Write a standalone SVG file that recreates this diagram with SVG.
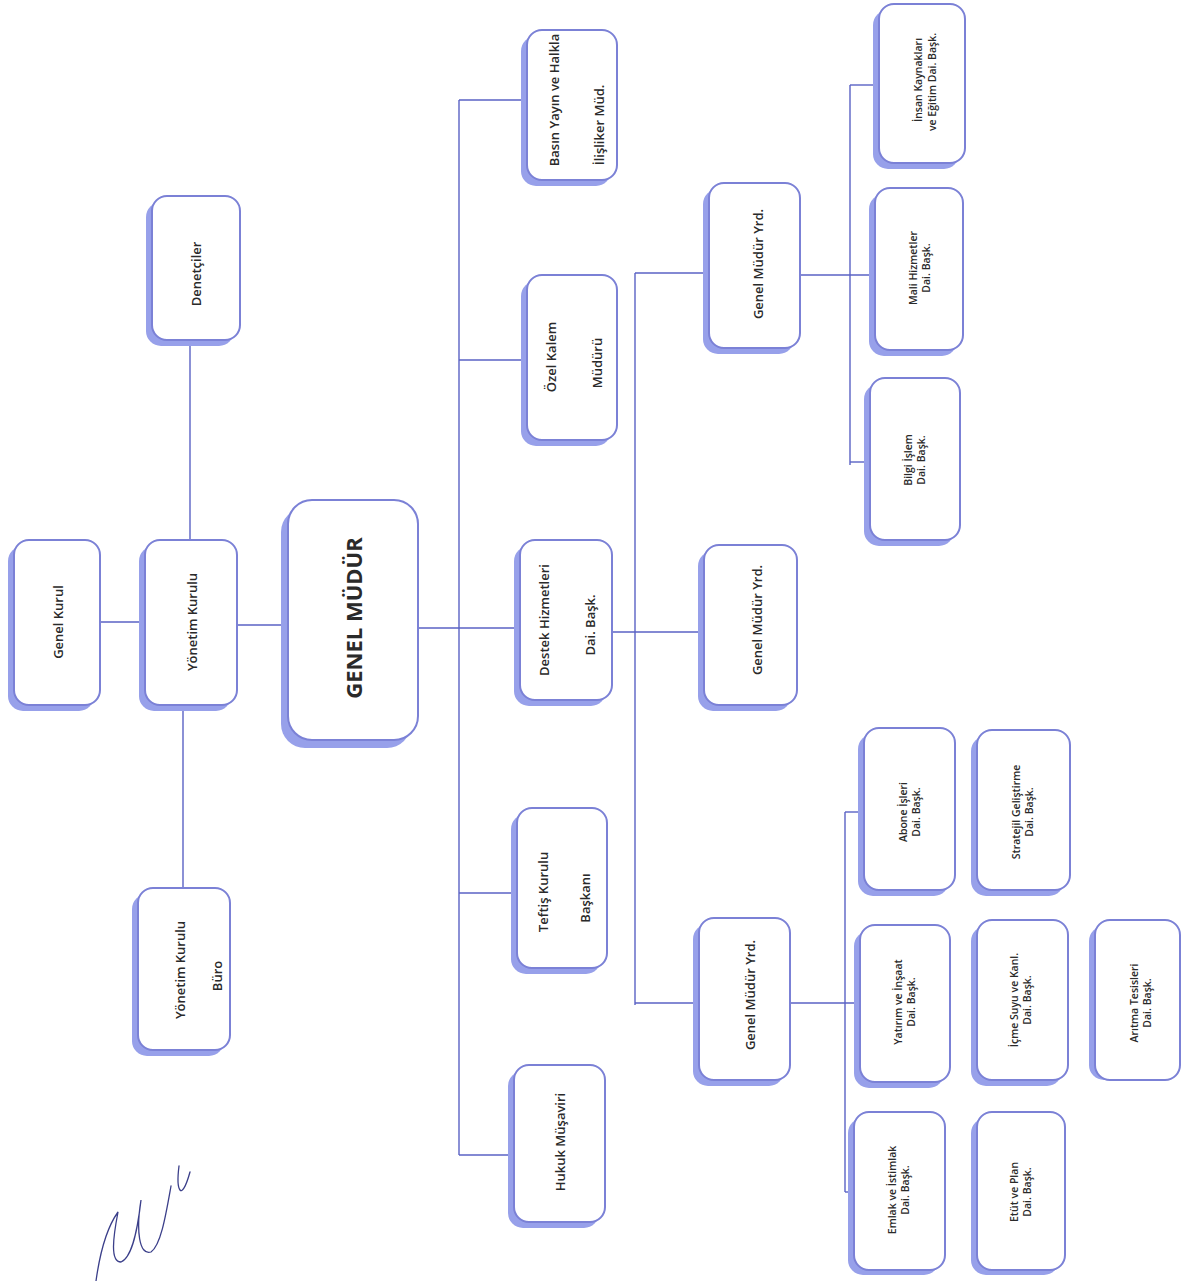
<svg xmlns="http://www.w3.org/2000/svg" width="1184" height="1281" viewBox="0 0 1184 1281">
<defs>
<style>
.sh{fill:#97a0ea;}
.bx{fill:#ffffff;stroke:#7b81d6;stroke-width:2;}
.t{font-family:"Open Sans","Liberation Sans",sans-serif;font-size:13px;font-weight:600;fill:#2a2a2a;text-anchor:middle;dominant-baseline:central;}
.s{font-size:10.5px;}
.big{font-size:22px;font-weight:700;}
.ln{stroke:#5a62c4;stroke-width:1.4;fill:none;}
.sig{stroke:#3b3f8a;stroke-width:1.3;fill:none;stroke-linecap:round;}
</style>
</defs>
<rect width="1184" height="1281" fill="#ffffff"/>
<g id="connectors">
<path class="ln" d="M100,622 H145"/>
<path class="ln" d="M237,625 H288"/>
<path class="ln" d="M190,340 V540"/>
<path class="ln" d="M183,705 V888"/>
<path class="ln" d="M418,628 H520"/>
<path class="ln" d="M459,100 V1155"/>
<path class="ln" d="M459,100 H527"/>
<path class="ln" d="M459,360 H527"/>
<path class="ln" d="M459,893 H517"/>
<path class="ln" d="M459,1155 H514"/>
<path class="ln" d="M612,632 H704"/>
<path class="ln" d="M635,273 V1005"/>
<path class="ln" d="M635,273 H709"/>
<path class="ln" d="M635,1003 H699"/>
<path class="ln" d="M800,275 H875"/>
<path class="ln" d="M850,85 V465"/>
<path class="ln" d="M850,85 H879"/>
<path class="ln" d="M850,462 H870"/>
<path class="ln" d="M790,1003 H860"/>
<path class="ln" d="M845,812 V1192"/>
<path class="ln" d="M845,812 H864"/>
<path class="ln" d="M845,1192 H854"/>
</g>
<g id="genel-kurul"><rect class="sh" x="8" y="546" width="86" height="165" rx="15"/><rect class="bx" x="14" y="540" width="86" height="165" rx="15"/><text class="t" transform="translate(58,622) rotate(-90)">Genel Kurul</text></g>
<g id="yonetim-kurulu"><rect class="sh" x="139" y="546" width="92" height="165" rx="15"/><rect class="bx" x="145" y="540" width="92" height="165" rx="15"/><text class="t" transform="translate(192,622) rotate(-90)">Yönetim Kurulu</text></g>
<g id="denetciler"><rect class="sh" x="146" y="202" width="88" height="144" rx="15"/><rect class="bx" x="152" y="196" width="88" height="144" rx="15"/><text class="t" transform="translate(196,274) rotate(-90)">Denetçiler</text></g>
<g id="yonetim-kurulu-buro"><rect class="sh" x="132" y="894" width="92" height="162" rx="15"/><rect class="bx" x="138" y="888" width="92" height="162" rx="15"/><text class="t" transform="translate(180,970) rotate(-90)">Yönetim Kurulu</text><text class="t" transform="translate(217,976) rotate(-90)">Büro</text></g>
<g id="genel-mudur"><rect class="sh" x="281" y="508" width="130" height="240" rx="24"/><rect class="bx" x="288" y="500" width="130" height="240" rx="24"/><text class="t big" transform="translate(353,618) rotate(-90)">GENEL MÜDÜR</text></g>
<g id="basin"><rect class="sh" x="521" y="36" width="90" height="150" rx="15"/><rect class="bx" x="527" y="30" width="90" height="150" rx="15"/><text class="t" transform="translate(554,100) rotate(-90)">Basın Yayın ve Halkla</text><text class="t" transform="translate(599,125) rotate(-90)">İlişliker Müd.</text></g>
<g id="ozel-kalem"><rect class="sh" x="521" y="281" width="90" height="165" rx="15"/><rect class="bx" x="527" y="275" width="90" height="165" rx="15"/><text class="t" transform="translate(551,357) rotate(-90)">Özel Kalem</text><text class="t" transform="translate(597,363) rotate(-90)">Müdürü</text></g>
<g id="destek"><rect class="sh" x="514" y="546" width="92" height="160" rx="15"/><rect class="bx" x="520" y="540" width="92" height="160" rx="15"/><text class="t" transform="translate(544,620) rotate(-90)">Destek Hizmetleri</text><text class="t" transform="translate(590,625) rotate(-90)">Dai. Başk.</text></g>
<g id="teftis"><rect class="sh" x="511" y="814" width="90" height="160" rx="15"/><rect class="bx" x="517" y="808" width="90" height="160" rx="15"/><text class="t" transform="translate(543,892) rotate(-90)">Teftiş Kurulu</text><text class="t" transform="translate(585,898) rotate(-90)">Başkanı</text></g>
<g id="hukuk"><rect class="sh" x="508" y="1071" width="91" height="157" rx="15"/><rect class="bx" x="514" y="1065" width="91" height="157" rx="15"/><text class="t" transform="translate(560,1142) rotate(-90)">Hukuk Müşaviri</text></g>
<g id="gmy-1"><rect class="sh" x="703" y="189" width="91" height="165" rx="15"/><rect class="bx" x="709" y="183" width="91" height="165" rx="15"/><text class="t" transform="translate(758,264) rotate(-90)">Genel Müdür Yrd.</text></g>
<g id="gmy-2"><rect class="sh" x="698" y="551" width="93" height="160" rx="15"/><rect class="bx" x="704" y="545" width="93" height="160" rx="15"/><text class="t" transform="translate(757,620) rotate(-90)">Genel Müdür Yrd.</text></g>
<g id="gmy-3"><rect class="sh" x="693" y="924" width="91" height="162" rx="15"/><rect class="bx" x="699" y="918" width="91" height="162" rx="15"/><text class="t" transform="translate(750,995) rotate(-90)">Genel Müdür Yrd.</text></g>
<g id="insan"><rect class="sh" x="873" y="10" width="86" height="159" rx="15"/><rect class="bx" x="879" y="4" width="86" height="159" rx="15"/><text class="t s" transform="translate(918,80) rotate(-90)">İnsan Kaynakları</text><text class="t s" transform="translate(932,82) rotate(-90)">ve Eğitim Dai. Başk.</text></g>
<g id="mali"><rect class="sh" x="869" y="194" width="88" height="162" rx="15"/><rect class="bx" x="875" y="188" width="88" height="162" rx="15"/><text class="t s" transform="translate(913,268) rotate(-90)">Mali Hizmetler</text><text class="t s" transform="translate(926,268) rotate(-90)">Dai. Başk.</text></g>
<g id="bilgi"><rect class="sh" x="864" y="384" width="90" height="162" rx="15"/><rect class="bx" x="870" y="378" width="90" height="162" rx="15"/><text class="t s" transform="translate(908,460) rotate(-90)">Bilgi İşlem</text><text class="t s" transform="translate(921,460) rotate(-90)">Dai. Başk.</text></g>
<g id="abone"><rect class="sh" x="858" y="734" width="91" height="162" rx="15"/><rect class="bx" x="864" y="728" width="91" height="162" rx="15"/><text class="t s" transform="translate(903,812) rotate(-90)">Abone İşleri</text><text class="t s" transform="translate(916,812) rotate(-90)">Dai. Başk.</text></g>
<g id="yatirim"><rect class="sh" x="854" y="931" width="90" height="157" rx="15"/><rect class="bx" x="860" y="925" width="90" height="157" rx="15"/><text class="t s" transform="translate(898,1002) rotate(-90)">Yatırım ve İnşaat</text><text class="t s" transform="translate(911,1002) rotate(-90)">Dai. Başk.</text></g>
<g id="emlak"><rect class="sh" x="848" y="1118" width="91" height="157" rx="15"/><rect class="bx" x="854" y="1112" width="91" height="158" rx="15"/><text class="t s" transform="translate(892,1190) rotate(-90)">Emlak ve İstimlak</text><text class="t s" transform="translate(905,1190) rotate(-90)">Dai. Başk.</text></g>
<g id="stratejil"><rect class="sh" x="971" y="736" width="93" height="160" rx="15"/><rect class="bx" x="977" y="730" width="93" height="160" rx="15"/><text class="t s" transform="translate(1016,812) rotate(-90)">Stratejil Geliştirme</text><text class="t s" transform="translate(1029,812) rotate(-90)">Dai. Başk.</text></g>
<g id="icme-suyu"><rect class="sh" x="971" y="926" width="91" height="160" rx="15"/><rect class="bx" x="977" y="920" width="91" height="160" rx="15"/><text class="t s" transform="translate(1014,1000) rotate(-90)">İçme Suyu ve Kanl.</text><text class="t s" transform="translate(1027,1000) rotate(-90)">Dai. Başk.</text></g>
<g id="aritma"><rect class="sh" x="1089" y="926" width="85" height="154" rx="15"/><rect class="bx" x="1095" y="920" width="85" height="160" rx="15"/><text class="t s" transform="translate(1134,1003) rotate(-90)">Arıtma Tesisleri</text><text class="t s" transform="translate(1147,1003) rotate(-90)">Dai. Başk.</text></g>
<g id="etut"><rect class="sh" x="971" y="1118" width="88" height="157" rx="15"/><rect class="bx" x="977" y="1112" width="88" height="158" rx="15"/><text class="t s" transform="translate(1014,1192) rotate(-90)">Etüt ve Plan</text><text class="t s" transform="translate(1027,1192) rotate(-90)">Dai. Başk.</text></g>
<g id="signature">
<path class="sig" d="M96,1281 C100,1252 108,1226 118,1212 C113,1238 110,1262 121,1262 C133,1257 138,1226 141,1200 C136,1230 139,1256 151,1252 C161,1245 166,1214 171,1186"/>
<path class="sig" d="M179,1166 C176,1190 181,1204 190,1172"/>
</g>
</svg>
